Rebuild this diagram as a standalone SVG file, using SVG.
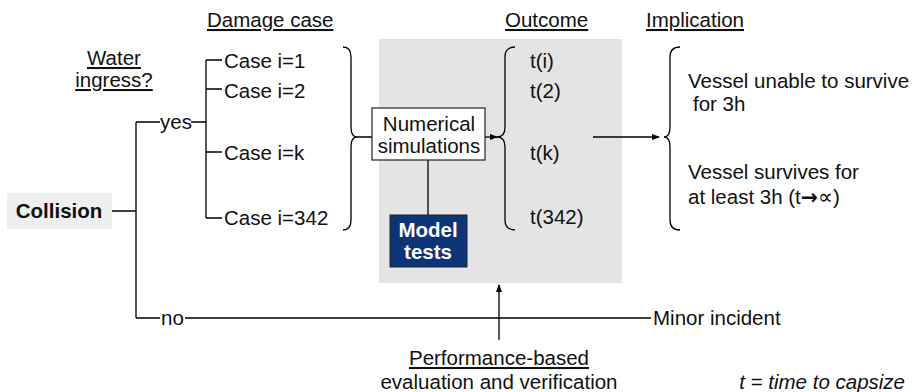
<svg xmlns="http://www.w3.org/2000/svg" width="916" height="392" viewBox="0 0 916 392">
<defs>
<marker id="ah" markerWidth="8" markerHeight="8" refX="7" refY="4" orient="auto" markerUnits="userSpaceOnUse">
<path d="M0,1 L8,4 L0,7 Z" fill="#000"/>
</marker>
<style>
text{font-family:"Liberation Sans",Arial,sans-serif;font-size:20.5px;fill:#111}
.u{text-decoration:underline}
.b{font-weight:bold}
.w{fill:#fff}
.ln{stroke:#000;stroke-width:1.3;fill:none}
</style>
</defs>
<rect width="916" height="392" fill="#fff"/>
<rect id="gray-area" x="379" y="39" width="243" height="244" fill="#e4e4e4"/>
<g id="headers">
<text x="207" y="27" class="u">Damage case</text>
<text x="505" y="27" class="u">Outcome</text>
<text x="646" y="27" class="u">Implication</text>
<text x="114" y="65" class="u" text-anchor="middle">Water</text>
<text x="114" y="87" class="u" text-anchor="middle">ingress?</text>
</g>
<g id="connectors">
<path class="ln" d="M112,211 H136 M136,122 V318 M136,122 H160 M191,122 H206 M206,60 V218 M206,60 H222 M206,89 H222 M206,152 H222 M206,218 H222"/>
<path class="ln" d="M136,318 H160 M185,318 H651"/>
<path class="ln" d="M343,47 Q351,47 351,57 L351,127 Q351,137 357,137 Q351,137 351,147 L351,220 Q351,230 343,230 M357,137 H372"/>
<path class="ln" d="M428,160 V215"/>
<path class="ln" d="M485,137 H497" marker-end="url(#ah)"/>
<path class="ln" d="M515,47 Q505,47 505,57 L505,127 Q505,137 497,137 Q505,137 505,147 L505,220 Q505,230 515,230"/>
<path class="ln" d="M593,137 H659" marker-end="url(#ah)"/>
<path class="ln" d="M680,47 Q670,47 670,57 L670,127 Q670,137 664,137 Q670,137 670,147 L670,220 Q670,230 680,230"/>
<path class="ln" d="M499,340 V285" marker-end="url(#ah)"/>
</g>
<g id="collision">
<rect x="7" y="193" width="105" height="36" fill="#efefef"/>
<text x="59" y="218" class="b" text-anchor="middle">Collision</text>
</g>
<g id="yes"><text x="160" y="129">yes</text></g>
<g id="no"><text x="161" y="325">no</text></g>
<g id="cases">
<text x="224" y="68">Case i=1</text>
<text x="224" y="98">Case i=2</text>
<text x="224" y="160">Case i=k</text>
<text x="224" y="225">Case i=342</text>
</g>
<g id="numerical">
<rect x="372" y="108" width="113" height="52" fill="#fff" stroke="#222" stroke-width="1.2"/>
<text x="429" y="131" text-anchor="middle">Numerical</text>
<text x="429" y="153" text-anchor="middle">simulations</text>
</g>
<g id="model-tests">
<rect x="390" y="215" width="77" height="52" fill="#0b3479" stroke="#222" stroke-width="1"/>
<text x="428" y="237" class="b w" text-anchor="middle">Model</text>
<text x="428" y="259" class="b w" text-anchor="middle">tests</text>
</g>
<g id="outcomes">
<text x="530" y="68">t(i)</text>
<text x="530" y="98">t(2)</text>
<text x="530" y="160">t(k)</text>
<text x="530" y="224">t(342)</text>
</g>
<g id="implications">
<text x="688" y="88">Vessel unable to survive</text>
<text x="693" y="111">for 3h</text>
<text x="688" y="179">Vessel survives for</text>
<text x="688" y="204">at least 3h (t<tspan font-family="DejaVu Sans, sans-serif" font-weight="bold">→</tspan>∝)</text>
</g>
<g id="minor"><text x="653" y="325">Minor incident</text></g>
<g id="performance">
<text x="499" y="365" class="u" text-anchor="middle">Performance-based</text>
<text x="499" y="389" text-anchor="middle">evaluation and verification</text>
</g>
<g id="legend"><text x="905" y="389" text-anchor="end" font-style="italic">t = time to capsize</text></g>
</svg>
